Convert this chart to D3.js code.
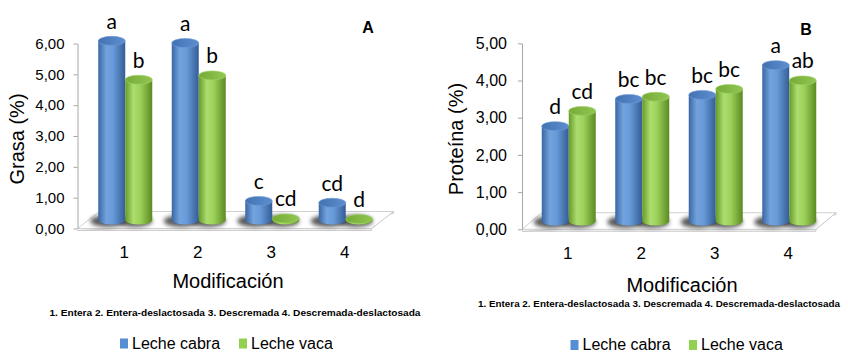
<!DOCTYPE html>
<html>
<head>
<meta charset="utf-8">
<script src="https://cdn.jsdelivr.net/npm/d3@7"></script>
<style>
  body { margin: 0; background: #fff; }
  text { font-family: "Liberation Sans", Arial, sans-serif; fill: #000; }
  .letra { font-family: Lato, "Open Sans", sans-serif; font-size: 21px; }
</style>
</head>
<body>
<script>
// Datos
const categorias = ["1", "2", "3", "4"];
const series = ["Leche cabra", "Leche vaca"];

const grasaCabra = [5.81, 5.74, 0.62, 0.56];
const grasaVaca = [4.55, 4.69, 0.05, 0.03];
const grasaLetrasCabra = ["a", "a", "c", "cd"];
const grasaLetrasVaca = ["b", "b", "cd", "d"];

const proteinaCabra = [2.55, 3.28, 3.39, 4.19];
const proteinaVaca = [2.96, 3.34, 3.55, 3.78];
const proteinaLetrasCabra = ["d", "bc", "bc", "a"];
const proteinaLetrasVaca = ["cd", "bc", "bc", "ab"];

const ticksGrasa = [0, 1, 2, 3, 4, 5, 6];
const ticksProteina = [0, 1, 2, 3, 4, 5];

const tituloX = "Modificación";
const nota = "1. Entera 2. Entera-deslactosada 3. Descremada 4. Descremada-deslactosada";

var svg = d3.select("body").append("svg")
    .attr("width", 848)
    .attr("height", 362);

// gradientes de los cilindros
var defs = svg.append("defs");
function gradiente(id, paradas) {
    var g = defs.append("linearGradient").attr("id", id)
        .attr("x1", "0%").attr("x2", "100%").attr("y1", "0%").attr("y2", "0%");
    paradas.forEach(p => g.append("stop").attr("offset", p[0]).attr("stop-color", p[1]));
}
gradiente("gradAzul", [["0%", "#3a67a3"], ["30%", "#73a3de"], ["55%", "#679ad8"], ["100%", "#345d96"]]);
gradiente("gradVerde", [["0%", "#679a28"], ["30%", "#acdd6e"], ["55%", "#9cd15a"], ["100%", "#5c8a22"]]);
gradiente("topAzul", [["0%", "#4272b2"], ["100%", "#5d8ecf"]]);
gradiente("topVerde", [["0%", "#76ab36"], ["100%", "#92c653"]]);

defs.append("filter").attr("id", "sombra")
    .attr("x", "-50%").attr("y", "-50%").attr("width", "200%").attr("height", "200%")
    .append("feGaussianBlur").attr("stdDeviation", 2.2);

var colores = { cuerpo: ["url(#gradAzul)", "url(#gradVerde)"], tapa: ["url(#topAzul)", "url(#topVerde)"], leyenda: ["#558ed5", "#92d050"] };

function panel(cfg) {
    var g = svg.append("g");

    var x = d3.scaleBand().domain(categorias).range([cfg.x0, cfg.x0 + 294]);
    var y = d3.scaleLinear().domain([0, cfg.max]).range([cfg.y0, cfg.yTop]);

    var dx = cfg.prof[0], dy = cfg.prof[1];
    var anchoBarra = 27, ry = 4.5;

    // suelo 3D
    var xa = cfg.x0, xb = cfg.x0 + 294, y0 = y(0);
    g.append("path")
        .attr("d", `M${xa},${y0 + 2}L${xb},${y0 + 2}L${xb},${y0}L${xb + dx},${y0 + dy}L${xb + dx},${y0 + dy + 2}Z`)
        .attr("fill", "#f2f2f2").attr("stroke", "#c4c4c4").attr("stroke-width", 0.8);
    g.append("path")
        .attr("d", `M${xa},${y0}L${xb},${y0}L${xb + dx},${y0 + dy}L${xa + dx},${y0 + dy}Z`)
        .attr("fill", "#fff").attr("stroke", "#c4c4c4").attr("stroke-width", 0.8);

    // eje Y
    var eje = g.append("g")
        .attr("transform", "translate(" + cfg.x0 + ",0)")
        .call(d3.axisLeft(y).tickValues(cfg.ticks).tickSize(4).tickSizeOuter(0).tickPadding(cfg.pad)
            .tickFormat(d => d3.format(".2f")(d).replace(".", ",")));
    eje.select(".domain").attr("stroke", "#a6a6a6");
    eje.selectAll(".tick line").attr("stroke", "#a6a6a6");
    eje.selectAll(".tick text").attr("font-size", cfg.fs + "px").attr("fill", "#111")
        .style("font-family", '"Liberation Sans", Arial, sans-serif');

    var baseY = y(0) + dy / 2;
    var datos = [];
    categorias.forEach((c, i) => {
        [cfg.cabra, cfg.vaca].forEach((serie, s) => {
            datos.push({
                cx: x(c) + x.bandwidth() / 2 + (s - 0.5) * anchoBarra + dx / 2,
                top: y(serie[i]) + dy / 2,
                s: s,
                letra: s == 0 ? cfg.letrasCabra[i] : cfg.letrasVaca[i]
            });
        });
    });

    // sombras sobre el suelo
    g.selectAll(".sombra").data(datos).enter().append("ellipse")
        .attr("cx", d => d.cx - 4).attr("cy", baseY + 1)
        .attr("rx", anchoBarra / 2 + 4).attr("ry", 6)
        .attr("fill", "#333").attr("opacity", 0.8)
        .attr("filter", "url(#sombra)");

    // cilindros
    var r = anchoBarra / 2;
    var barras = g.selectAll(".barra").data(datos).enter().append("g");
    barras.append("path")
        .attr("d", d => `M${d.cx - r},${d.top}L${d.cx - r},${baseY}A${r},${ry} 0 0 0 ${d.cx + r},${baseY}L${d.cx + r},${d.top}Z`)
        .attr("fill", d => colores.cuerpo[d.s]);
    barras.append("ellipse")
        .attr("cx", d => d.cx).attr("cy", d => d.top)
        .attr("rx", r).attr("ry", ry)
        .attr("fill", d => colores.tapa[d.s])
        .attr("stroke", d => d.s == 0 ? "#6f9bd6" : "#a0d266").attr("stroke-width", 0.6);

    // letras de significancia
    g.selectAll(".letra").data(datos).enter().append("text")
        .attr("class", "letra")
        .attr("x", d => d.cx).attr("y", d => d.top - ry - 7.5)
        .attr("text-anchor", "middle")
        .text(d => d.letra);

    // etiquetas del eje X
    g.selectAll(".cat").data(categorias).enter().append("text")
        .attr("x", d => x(d) + x.bandwidth() / 2 + dx / 2 - 1)
        .attr("y", cfg.yCat)
        .attr("text-anchor", "middle").attr("font-size", "17px")
        .text(d => d);

    g.append("text")
        .attr("x", cfg.cxTitulo).attr("y", cfg.yTitulo)
        .attr("text-anchor", "middle").attr("font-size", "20px")
        .text(tituloX);

    g.append("text")
        .attr("x", cfg.xNota).attr("y", cfg.yNota)
        .attr("font-size", "9.4px").attr("font-weight", "bold")
        .attr("textLength", cfg.largoNota).attr("lengthAdjust", "spacingAndGlyphs")
        .text(nota);

    // titulo eje Y
    g.append("text")
        .attr("transform", "translate(" + cfg.xEjeY + ",139) rotate(-90)")
        .attr("text-anchor", "middle").attr("dy", "0.35em").attr("font-size", "20px")
        .text(cfg.tituloY);

    // letra del panel
    g.append("text")
        .attr("x", cfg.letraPanel[1]).attr("y", cfg.letraPanel[2])
        .attr("text-anchor", "middle").attr("font-size", "16px").attr("font-weight", "bold")
        .text(cfg.letraPanel[0]);

    // leyenda
    series.forEach((nombre, s) => {
        var lx = cfg.leyenda[s];
        g.append("rect")
            .attr("x", lx).attr("y", cfg.yLeyenda - 10)
            .attr("width", 8).attr("height", 10)
            .attr("fill", colores.leyenda[s]);
        g.append("text")
            .attr("x", lx + 12).attr("y", cfg.yLeyenda)
            .attr("font-size", "16px").attr("fill", "#111")
            .text(nombre);
    });
}

panel({
    x0: 77.5, y0: 228.5, yTop: 43.5, max: 6, ticks: ticksGrasa, prof: [22, -17],
    pad: 9, fs: 15,
    cabra: grasaCabra, vaca: grasaVaca, letrasCabra: grasaLetrasCabra, letrasVaca: grasaLetrasVaca,
    yCat: 257.5, cxTitulo: 228, yTitulo: 287.5,
    xNota: 49.5, yNota: 315.5, largoNota: 371,
    xEjeY: 17, tituloY: "Grasa (%)", letraPanel: ["A", 368, 33],
    leyenda: [120, 239], yLeyenda: 348.5
});

panel({
    x0: 522, y0: 229.3, yTop: 43.3, max: 5, ticks: ticksProteina, prof: [20, -16.6],
    pad: 11, fs: 16,
    cabra: proteinaCabra, vaca: proteinaVaca, letrasCabra: proteinaLetrasCabra, letrasVaca: proteinaLetrasVaca,
    yCat: 258.5, cxTitulo: 682, yTitulo: 291.5,
    xNota: 478, yNota: 307, largoNota: 362,
    xEjeY: 456, tituloY: "Proteína (%)", letraPanel: ["B", 806, 35],
    leyenda: [570.5, 689], yLeyenda: 350
});
</script>
</body>
</html>
